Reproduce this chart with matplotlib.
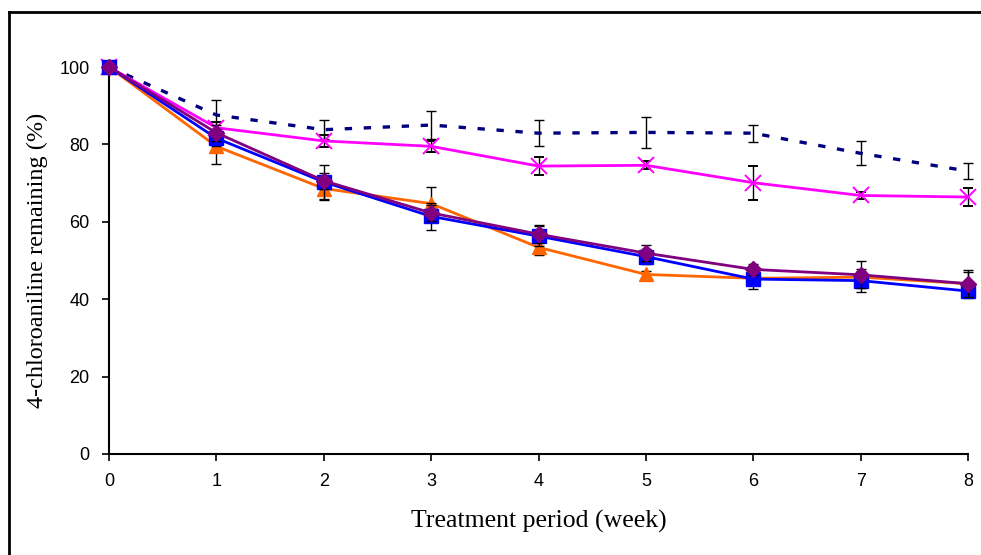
import numpy as np
import matplotlib.pyplot as plt
from matplotlib.lines import Line2D

weeks = [0, 1, 2, 3, 4, 5, 6, 7, 8]

control = [100, 87.6, 83.8, 85.0, 82.9, 83.1, 82.9, 77.7, 73.1]
control_err = [0, 4.0, 2.5, 3.7, 3.4, 4.0, 2.2, 3.1, 2.0]

magenta = [100, 84.3, 80.9, 79.5, 74.4, 74.6, 70.1, 66.8, 66.4]
magenta_err = [0, 1.5, 1.5, 1.5, 2.3, 1.0, 4.4, 1.0, 2.3]

orange = [100, 79.5, 68.6, 64.7, 53.4, 46.4, 45.4, 45.7, 44.0]
orange_err = [0, 4.5, 3.0, 4.2, 2.0, 1.0, 1.5, 1.5, 3.0]

blue = [100, 81.6, 70.3, 61.4, 56.3, 51.0, 45.2, 44.8, 42.1]
blue_err = [0, 2.0, 4.5, 3.5, 2.5, 2.0, 2.5, 3.0, 1.8]

purple = [100, 83.0, 70.6, 62.3, 56.8, 51.9, 47.7, 46.3, 44.0]
purple_err = [0, 2.0, 2.0, 2.0, 2.3, 2.0, 1.5, 3.5, 3.5]

fig = plt.figure(figsize=(9.81, 5.55), dpi=100)
ax = fig.add_axes([109 / 981, 101 / 555, 859 / 981, 387 / 555])

ebkw = dict(ecolor="black", elinewidth=1.0, capsize=3.5, capthick=1.0)

series = [
    (control, control_err, dict(color="#000080", lw=2.4, linestyle=(0, (2.2, 3.5)))),
    (magenta, magenta_err, dict(color="#FF00FF", lw=2.0, marker="x", ms=11, mew=1.4)),
    (orange, orange_err, dict(color="#FF6600", lw=2.0, marker="^", ms=10)),
    (blue, blue_err, dict(color="#0000FF", lw=2.0, marker="s", ms=10)),
    (purple, purple_err, dict(color="#800080", lw=2.0, marker="D", ms=8.5)),
]
for z, (vals, err, style) in enumerate(series):
    cont = ax.errorbar(weeks, vals, yerr=err, zorder=3 + z, **style, **ebkw)
    for art in cont.get_children():
        art.set_clip_on(False)

ax.set_xlim(0, 8)
ax.set_ylim(0, 100)
ax.set_xticks(weeks)
ax.set_yticks([0, 20, 40, 60, 80, 100])
for s in ["top", "right"]:
    ax.spines[s].set_visible(False)
ax.spines["left"].set_linewidth(1.5)
ax.spines["bottom"].set_linewidth(1.5)
ax.tick_params(direction="out", length=5, width=1.2, labelsize=13, pad=9)
for lab in ax.get_xticklabels() + ax.get_yticklabels():
    lab.set_family(["Liberation Sans Narrow", "Liberation Sans", "DejaVu Sans"])

ax.set_xlabel("Treatment period (week)", family="Liberation Serif",
              fontsize=18.5, labelpad=14)
ax.set_ylabel("4-chloroaniline remaining (%)", family="Liberation Serif",
              fontsize=17.5, labelpad=8)

# outer frame (left and top edges)
fig.add_artist(Line2D([9 / 981, 9 / 981], [0, 1 - 12 / 555], color="black", lw=2,
                      transform=fig.transFigure))
fig.add_artist(Line2D([9 / 981, 1], [1 - 12 / 555, 1 - 12 / 555], color="black", lw=2,
                      transform=fig.transFigure))

plt.savefig("out.png", dpi=100)
